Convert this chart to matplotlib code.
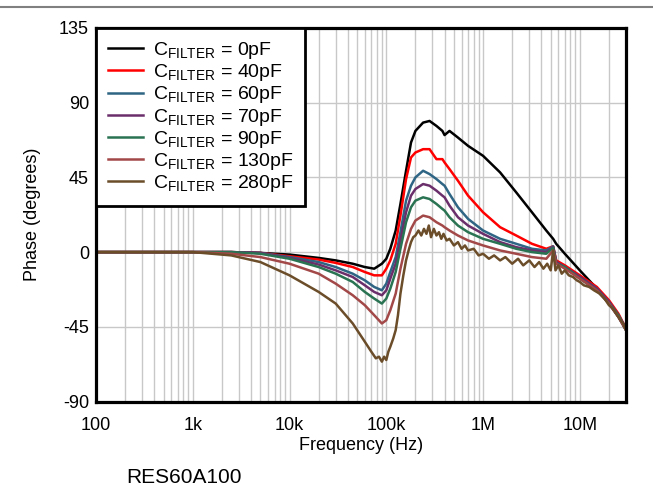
import matplotlib
matplotlib.use("Agg")
import matplotlib.pyplot as plt
from matplotlib.lines import Line2D
import numpy as np

plt.rcParams['font.family'] = ['Liberation Sans', 'DejaVu Sans']
plt.rcParams['mathtext.fontset'] = 'custom'
plt.rcParams['mathtext.rm'] = 'Liberation Sans'
plt.rcParams['mathtext.it'] = 'Liberation Sans'

freq = [100, 1e3, 2.5e3, 5e3, 10e3, 20e3, 30e3, 45e3, 60e3, 75e3, 90e3, 100e3, 110e3,
        125e3, 140e3, 160e3, 180e3, 200e3, 240e3, 280e3, 330e3, 380e3, 400e3, 450e3,
        550e3, 700e3, 1e6, 1.5e6, 2.2e6, 3.2e6, 4.5e6, 5.3e6, 5.7e6, 7e6, 10e6, 15e6,
        20e6, 25e6, 30e6]

phase_0pF = [0, 0, 0, -0.5, -1.5, -3.5, -5, -7, -9, -10, -7, -4, 2,
             13, 29, 49, 66, 73, 78, 79, 76, 73, 70.5, 73,
             69, 64, 58, 48, 36, 24, 13, 8, 5, -1, -11, -22,
             -31, -39, -47]
phase_40pF = [0, 0, 0, -0.5, -2.5, -4.5, -6.5, -9, -12, -14, -14, -10, -5,
              5, 22, 44, 57, 60, 62, 62, 56, 56, 54, 50,
              43, 34, 24, 15, 10, 5, 2, 3.5, -5, -8, -14, -21,
              -29, -37, -46]
phase_60pF = [0, 0, 0, -0.5, -3, -6, -9, -13, -17, -21, -23, -19, -12,
              -3, 12, 31, 40, 45, 49, 47, 44, 41, 40, 35,
              27, 20, 13, 8, 5, 2, 1, 3.5, -6, -9, -15, -22,
              -30, -38, -46]
phase_70pF = [0, 0, 0, -0.5, -3.5, -7.5, -11, -15, -20, -24, -26, -23, -16,
              -7, 7, 24, 34, 38, 41, 40, 37, 34, 33, 28,
              21, 16, 11, 6, 3, 1, 0, 3, -6, -9, -15, -22,
              -30, -38, -46]
phase_90pF = [0, 0, 0, -1, -4, -9, -13, -18, -24, -28, -31, -28, -22,
              -12, 2, 18, 27, 31, 33, 32, 29, 26, 25, 21,
              16, 12, 8, 5, 2, 0, -1, 2.5, -7, -9, -16, -23,
              -31, -38, -47]
phase_130pF = [0, 0, -1, -3, -7, -13, -19, -26, -32, -38, -43, -41, -35,
               -25, -10, 5, 14, 19, 22, 21, 18, 16, 15, 13,
               10, 7, 4, 1, -1, -3, -4, 1, -7, -10, -16, -23,
               -31, -39, -47]

# 280pF trace is noisy: read on a denser grid
freq_280 = [100, 1e3, 2.5e3, 5e3, 10e3, 20e3, 30e3, 45e3, 60e3, 70e3, 78e3, 84e3,
            90e3, 95e3, 100e3, 105e3, 110e3, 118e3, 125e3, 132e3, 140e3, 150e3, 160e3,
            170e3, 180e3, 190e3, 200e3, 215e3, 230e3, 245e3, 260e3, 275e3, 290e3,
            310e3, 330e3, 350e3, 370e3, 390e3, 420e3, 450e3, 500e3, 550e3, 600e3,
            650e3, 700e3, 800e3, 900e3, 1e6, 1.15e6, 1.3e6, 1.5e6, 1.7e6, 2e6, 2.3e6,
            2.6e6, 3e6, 3.4e6, 3.8e6, 4.2e6, 4.6e6, 5e6, 5.3e6, 5.6e6, 6e6, 6.5e6,
            7e6, 7.7e6, 8.5e6, 9.3e6, 10e6, 11e6, 12.5e6, 14e6, 16e6, 18e6, 20e6,
            22e6, 25e6, 28e6, 30e6]
phase_280pF = [0, 0, -2, -6, -14, -24, -31, -43, -54, -60, -64, -63,
               -66, -63, -65, -60, -57, -52, -47, -38, -25, -14, -5,
               1, 6, 9, 10, 13, 10, 14, 11, 16, 9,
               14, 10, 12, 8, 11, 7, 8, 4, 6, 2,
               4, 1, 2, -2, -1, -4, -2, -5, -3, -7, -4,
               -8, -5, -9, -6, -10, -7, -11, 1, -11, -8, -13,
               -11, -14, -15, -17, -18, -20, -21, -23, -25, -28, -32,
               -34, -39, -43, -47]

labels = ["0pF", "40pF", "60pF", "70pF", "90pF", "130pF", "280pF"]
series = [(freq, phase_0pF), (freq, phase_40pF), (freq, phase_60pF), (freq, phase_70pF),
          (freq, phase_90pF), (freq, phase_130pF), (freq_280, phase_280pF)]
colors = ["#000000", "#FF0000", "#2F6584", "#6A2F6B", "#2A7352", "#A34848", "#6B4D2A"]

fig = plt.figure(figsize=(6.53, 4.98), dpi=100)
ax = fig.add_axes([96/653, 1-401.5/498, 530/653, 373.5/498])

for (fx, vals), lab, c in zip(series, labels, colors):
    ax.plot(fx, vals, color=c, lw=1.8, label=r"C$_{\mathrm{FILTER}}$ = " + lab)

ax.set_xscale('log')
ax.set_xlim(100, 3e7)
ax.set_ylim(-90, 135)
ax.set_yticks([-90, -45, 0, 45, 90, 135])
ax.set_yticklabels(["-90", "-45", "0", "45", "90", "135"])
ax.set_xticks([1e2, 1e3, 1e4, 1e5, 1e6, 1e7])
ax.set_xticklabels(["100", "1k", "10k", "100k", "1M", "10M"])
ax.xaxis.set_minor_locator(matplotlib.ticker.LogLocator(base=10, subs=np.arange(2, 10)))
ax.xaxis.set_minor_formatter(matplotlib.ticker.NullFormatter())
ax.grid(True, which='major', axis='both', color='#c8c8c8', lw=1.0)
ax.grid(True, which='minor', axis='x', color='#c8c8c8', lw=1.0)
ax.set_axisbelow(True)
ax.tick_params(which='both', length=0, labelsize=13)
ax.tick_params(axis='x', pad=11)
ax.tick_params(axis='y', pad=5)
for s in ax.spines.values():
    s.set_linewidth(2.3)
    s.set_color('black')

ax.set_xlabel("Frequency (Hz)", fontsize=13, labelpad=2)
ax.set_ylabel("Phase (degrees)", fontsize=13, labelpad=13)

leg = ax.legend(loc='upper left', borderaxespad=0, fontsize=14, frameon=True,
                fancybox=False, handlelength=1.8, handletextpad=0.5,
                labelspacing=0.06, borderpad=0.62)
leg.get_frame().set_edgecolor('black')
leg.get_frame().set_linewidth(2.0)
leg.get_frame().set_alpha(1)

fig.text(126/653, 1-477/498, "RES60A100", fontsize=15, va='center', ha='left')
fig.add_artist(Line2D([0, 1], [1-7/498, 1-7/498], color='#808080', lw=1.5,
                      transform=fig.transFigure))

fig.savefig("out.png", dpi=100)
